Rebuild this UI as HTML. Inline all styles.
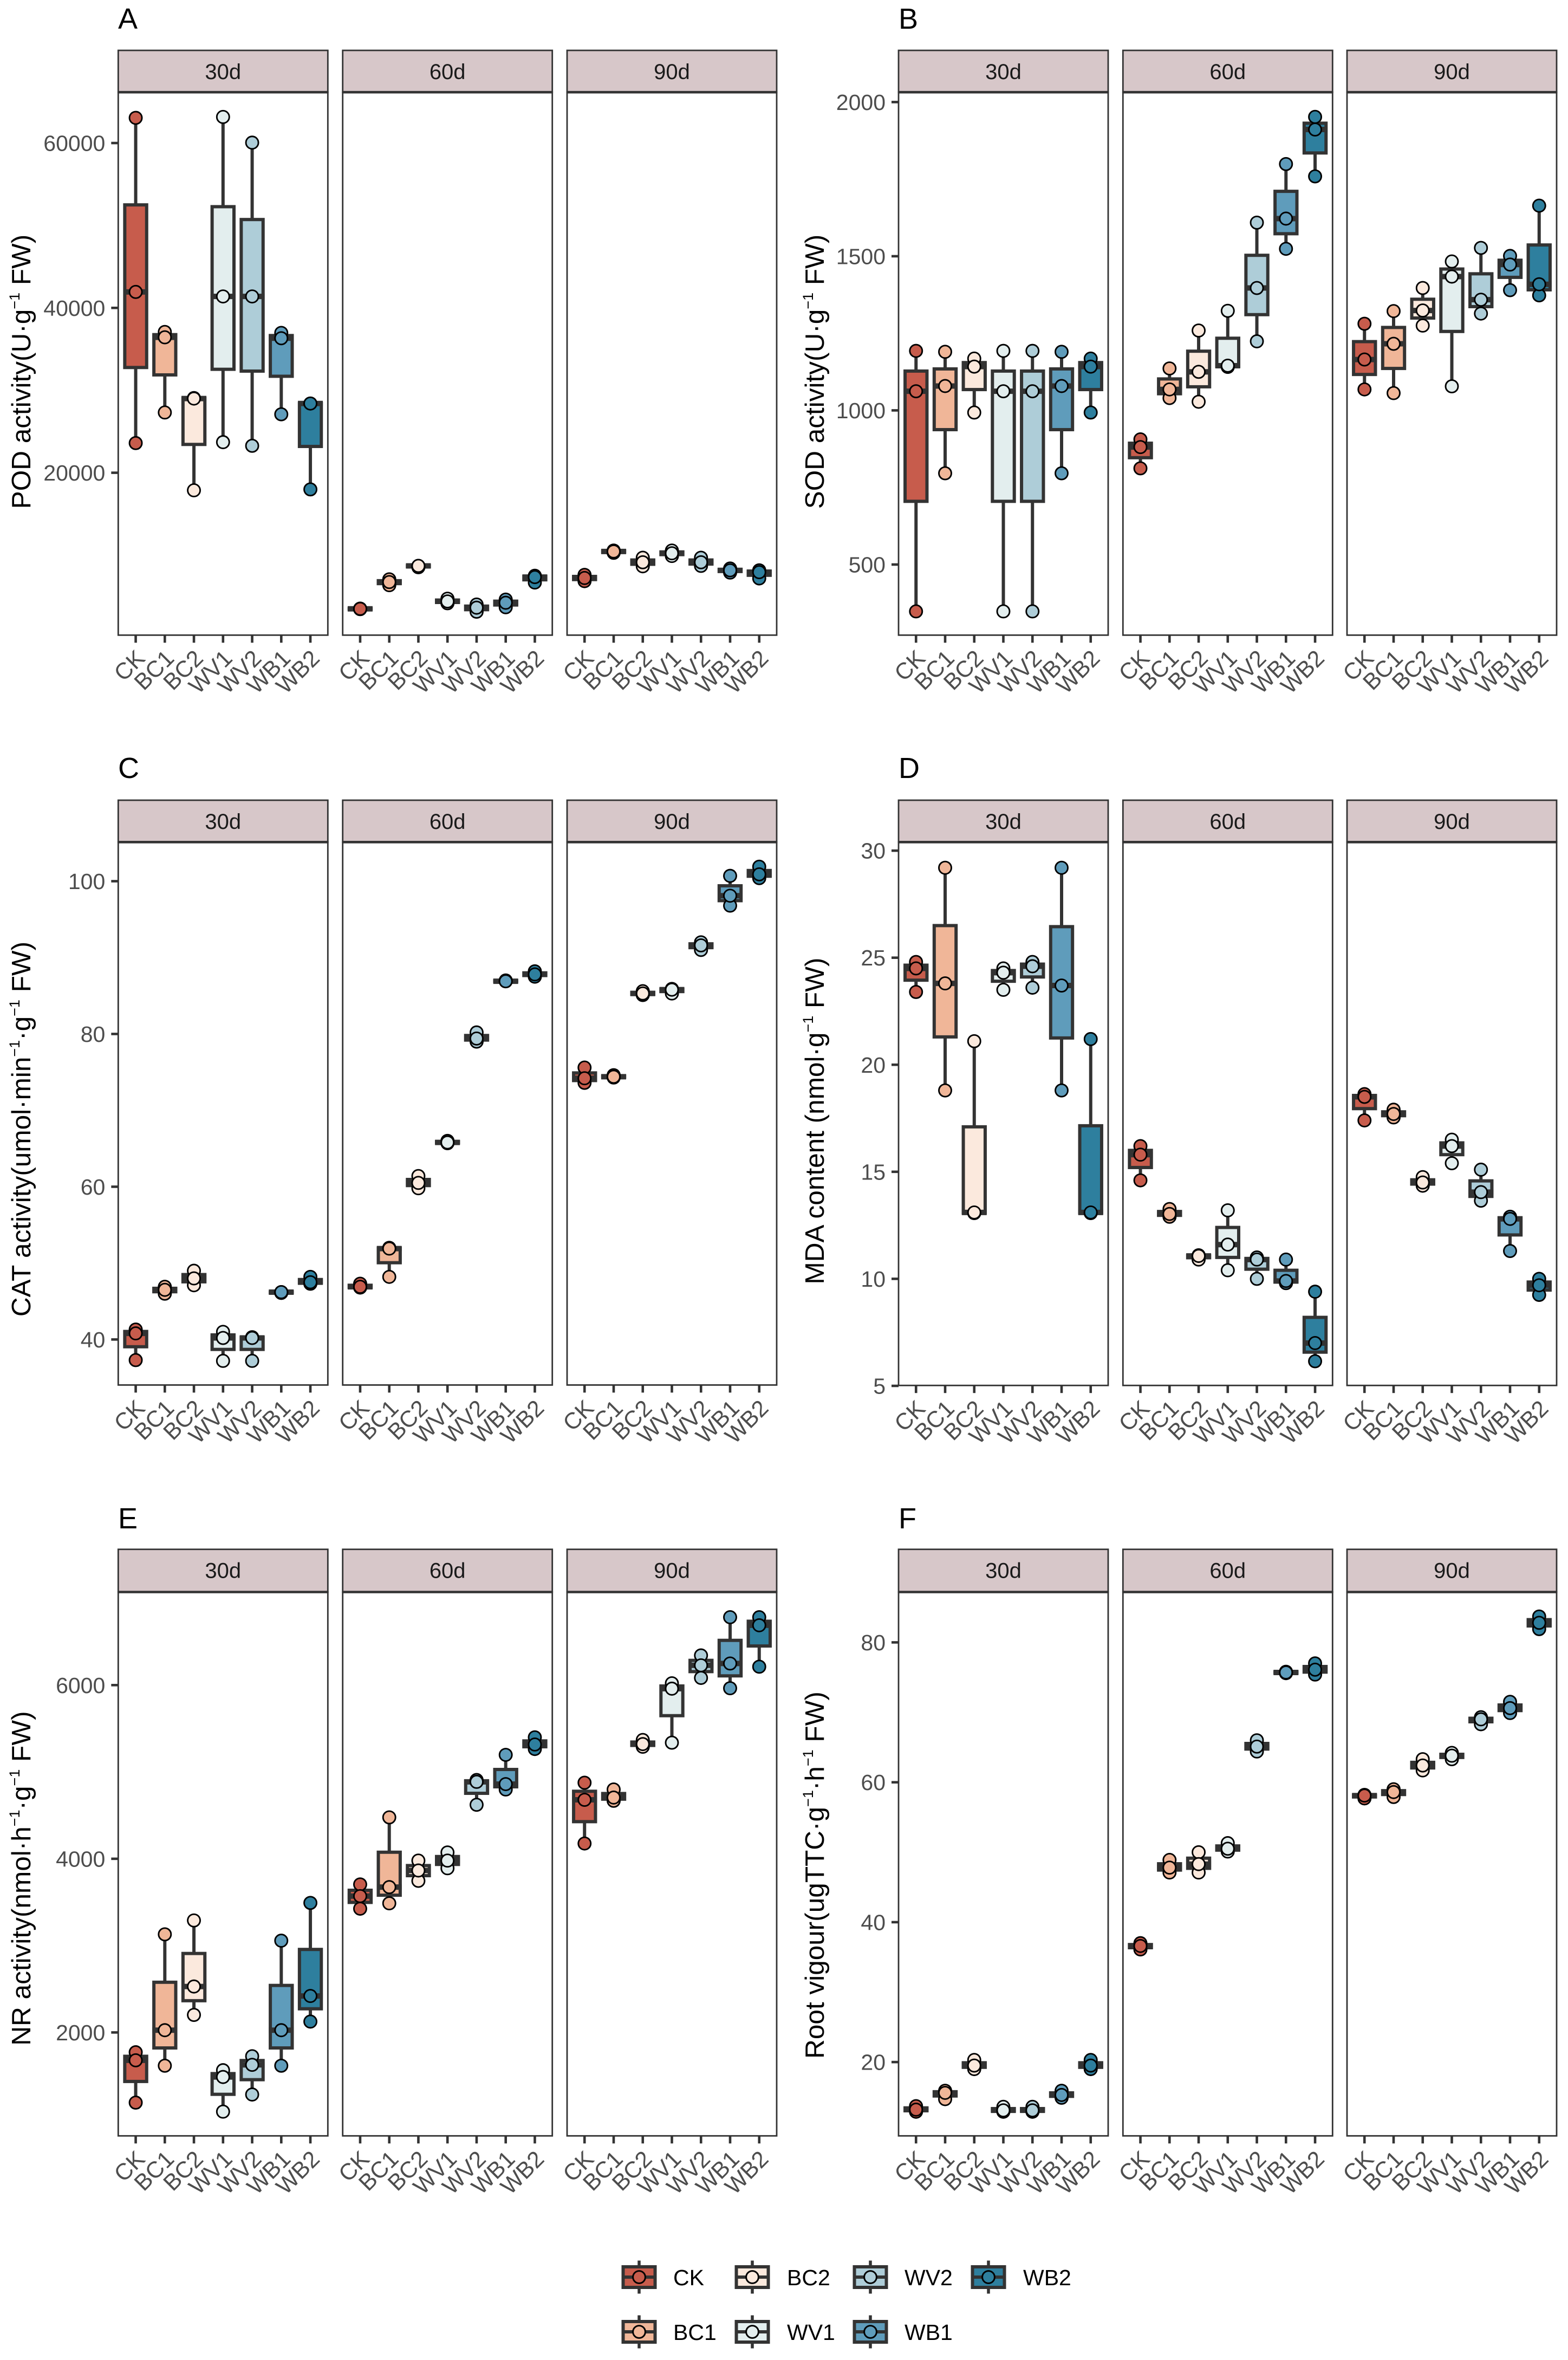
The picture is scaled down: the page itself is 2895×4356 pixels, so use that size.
<!DOCTYPE html>
<html lang="en">
<head>
<meta charset="utf-8">
<title>Enzyme activity boxplots</title>
<style>
html,body{margin:0;padding:0;background:#fff}
svg{display:block}
text{font-family:"Liberation Sans",Arial,sans-serif}
</style>
</head>
<body>
<svg id="figure" xmlns="http://www.w3.org/2000/svg" width="2895" height="4356" viewBox="0 0 2895 4356">
  <rect width="2895" height="4356" fill="#fff"/>
  <text x="218" y="53" font-size="54">A</text>
  <text x="1659" y="53" font-size="54">B</text>
  <text x="218" y="1436" font-size="54">C</text>
  <text x="1659" y="1436" font-size="54">D</text>
  <text x="218" y="2821" font-size="54">E</text>
  <text x="1659" y="2821" font-size="54">F</text>

  <text font-size="49.5" text-anchor="middle" transform="translate(56,686) rotate(-90)">POD activity(U·g<tspan dy="-20" font-size="27">−1</tspan><tspan dy="20"> FW)</tspan></text>
  <text font-size="49.5" text-anchor="middle" transform="translate(1521,686) rotate(-90)">SOD activity(U·g<tspan dy="-20" font-size="27">−1</tspan><tspan dy="20"> FW)</tspan></text>
  <text font-size="49.5" text-anchor="middle" transform="translate(56,2084) rotate(-90)">CAT activity(umol·min<tspan dy="-20" font-size="27">−1</tspan><tspan dy="20">·g</tspan><tspan dy="-20" font-size="27">−1</tspan><tspan dy="20"> FW)</tspan></text>
  <text font-size="49.5" text-anchor="middle" transform="translate(1521,2069) rotate(-90)">MDA content (nmol·g<tspan dy="-20" font-size="27">−1</tspan><tspan dy="20"> FW)</tspan></text>
  <text font-size="49.5" text-anchor="middle" transform="translate(56,3467) rotate(-90)">NR activity(nmol·h<tspan dy="-20" font-size="27">−1</tspan><tspan dy="20">·g</tspan><tspan dy="-20" font-size="27">−1</tspan><tspan dy="20"> FW)</tspan></text>
  <text font-size="49.5" text-anchor="middle" transform="translate(1521,3461) rotate(-90)">Root vigour(ugTTC·g<tspan dy="-20" font-size="27">−1</tspan><tspan dy="20">·h</tspan><tspan dy="-20" font-size="27">−1</tspan><tspan dy="20"> FW)</tspan></text>
</svg>
<script>
const categories = ['CK','BC1','BC2','WV1','WV2','WB1','WB2'];
const fillColors = ['#C75C4C','#F0B698','#FBE9DD','#E3EEEE','#AECDD8','#5F9CBB','#2E7F9E'];
const stripLabels = ['30d','60d','90d'];

const podTicks = [20000,40000,60000];
const podDomain = [299,66166];
const podD30 = [[63056,41937,23600],[37080,36430,27310],[29060,29000,17870],[63165,41390,23710],[60050,41390,23270],[36970,36320,27090],[28400,28400,17980]];
const podD60 = [[3520,3490,3450],[7067,6740,6360],[8700,8700,8540],[4720,4390,4170],[4010,3630,3140],[4610,4230,3680],[7500,7340,6680]];
const podD90 = [[7610,7230,6850],[10560,10450,10290],[9690,9140,8650],[10560,10230,9900],[9690,9140,8700],[8380,8160,7890],[8160,7940,7180]];

const sodTicks = [500,1000,1500,2000];
const sodDomain = [271,2032];
const sodD30 = [[1193,1062,348],[1190,1079,796],[1168,1142,993],[1193,1062,348],[1193,1062,348],[1190,1079,796],[1168,1142,993]];
const sodD60 = [[906,881,812],[1136,1068,1040],[1259,1125,1028],[1323,1145,1141],[1609,1397,1224],[1799,1622,1524],[1952,1911,1759]];
const sodD90 = [[1281,1165,1068],[1322,1216,1056],[1397,1324,1275],[1483,1434,1078],[1527,1359,1314],[1501,1473,1390],[1664,1409,1373]];

const catTicks = [40,60,80,100];
const catDomain = [34.04,105.12];
const catD30 = [[41.3,40.8,37.3],[46.9,46.5,46.0],[49.0,48.0,47.1],[41.0,40.2,37.2],[40.3,40.2,37.2],[46.2,46.2,46.1],[48.2,47.5,47.3]];
const catD60 = [[47.3,46.9,46.8],[52.0,51.9,48.2],[61.4,60.5,59.8],[66.0,65.8,65.7],[80.2,79.4,79.0],[87.0,86.9,86.9],[88.2,87.8,87.5]];
const catD90 = [[75.6,74.2,73.6],[74.6,74.4,74.3],[85.6,85.3,85.1],[85.9,85.8,85.3],[92.0,91.6,91.0],[100.7,98.1,96.8],[101.9,100.9,100.4]];

const mdaTicks = [5,10,15,20,25,30];
const mdaDomain = [5.02,30.4];
const mdaD30 = [[24.8,24.5,23.4],[29.2,23.8,18.8],[21.1,13.1,13.07],[24.5,24.3,23.5],[24.8,24.6,23.6],[29.2,23.7,18.8],[21.2,13.1,13.07]];
const mdaD60 = [[16.2,15.8,14.6],[13.26,13.03,12.9],[11.1,11.07,10.9],[13.2,11.6,10.4],[11.0,10.9,10.0],[10.9,9.9,9.8],[9.4,7.0,6.15]];
const mdaD90 = [[18.63,18.5,17.4],[17.9,17.7,17.54],[14.75,14.5,14.35],[16.5,16.2,15.4],[15.1,14.05,13.65],[12.9,12.8,11.3],[10.0,9.7,9.25]];

const nrTicks = [2000,4000,6000];
const nrDomain = [809,7072];
const nrD30 = [[1772,1679,1192],[3130,2026,1617],[3290,2529,2202],[1565,1487,1088],[1726,1627,1285],[3057,2026,1617],[3492,2420,2125]];
const nrD60 = [[3705,3570,3425],[4477,3674,3487],[3979,3865,3746],[4073,3979,3891],[4907,4886,4622],[5197,4860,4798],[5399,5316,5264]];
const nrD90 = [[4876,4679,4176],[4798,4705,4668],[5368,5321,5290],[6021,5959,5337],[6342,6228,6083],[6782,6249,5964],[6782,6689,6212]];

const rootTicks = [20,40,60,80];
const rootDomain = [9.45,87.2];
const rootD30 = [[13.7,13.2,12.9],[15.9,15.6,14.7],[20.3,19.5,19.0],[13.6,13.1,12.9],[13.6,13.1,12.9],[15.9,15.3,14.9],[20.3,19.5,19.0]];
const rootD60 = [[37.0,36.6,36.1],[48.9,47.8,47.1],[50.0,48.3,47.1],[51.3,50.5,50.1],[66.0,65.1,64.4],[75.8,75.7,75.6],[77.0,76.1,75.4]];
const rootD90 = [[58.2,58.1,57.7],[59.0,58.6,57.9],[63.3,62.4,61.7],[64.2,63.8,63.3],[69.3,69.0,68.3],[71.5,70.6,69.9],[83.7,82.8,81.9]];

const svg = document.getElementById('figure');
const NS = 'http://www.w3.org/2000/svg';
const INK = '#333333';
const PANEL_W = 387;

function make(tag, attrs, parent) {
  const el = document.createElementNS(NS, tag);
  for (const k in attrs) el.setAttribute(k, attrs[k]);
  (parent || svg).appendChild(el);
  return el;
}

function quantile(sorted, p) {
  const h = (sorted.length - 1) * p;
  const i = Math.floor(h);
  const j = Math.min(i + 1, sorted.length - 1);
  return sorted[i] + (sorted[j] - sorted[i]) * (h - i);
}

function drawBox(g, cx, y, reps, color) {
  const s = reps.slice().sort(function (a, b) { return a - b; });
  const q1 = quantile(s, 0.25), med = quantile(s, 0.5), q3 = quantile(s, 0.75);
  const lo = s[0], hi = s[s.length - 1];

  const whisker = make('path', {d: 'M' + cx + ' ' + y(hi) + 'V' + y(q3) + 'M' + cx + ' ' + y(q1) + 'V' + y(lo), stroke: INK, 'stroke-width': 6, fill: 'none'}, g);
  
  

  const rect = make('rect', {x: cx - 20.2, y: y(q3), width: 40.4, height: Math.max(0, y(q1) - y(q3)), fill: color, stroke: INK, 'stroke-width': 6}, g);
  
  

  const medianLine = make('line', {x1: cx - 23, x2: cx + 23, y1: y(med), y2: y(med), stroke: INK, 'stroke-width': 10}, g);
  
  

  [0, 2, 1].forEach(function (idx) {
    const dot = make('circle', {cx: cx, cy: y(reps[idx]), r: 11.5, fill: color, stroke: '#000', 'stroke-width': 2.9}, g);
    
    
  });
}

function drawPlot(name, panelLefts, stripTop, top, bottom, domain, ticks, series) {
  const yScale = function (v) { return bottom - (v - domain[0]) / (domain[1] - domain[0]) * (bottom - top); };

  series.forEach(function (values, p) {
    const left = panelLefts[p];
    const unit = PANEL_W / 7.2;
    const xScale = function (i) { return left + unit * (i + 0.6); };
    const g = make('g', {});
    
    

    const strip = make('rect', {x: left, y: stripTop, width: PANEL_W, height: top - stripTop, fill: '#D7C7C9', stroke: INK, 'stroke-width': 2.8}, g);
    
    

    const stripText = make('text', {x: left + PANEL_W / 2, y: stripTop + 53, 'font-size': 40, 'text-anchor': 'middle', fill: '#1A1A1A'}, g);
    stripText.textContent = stripLabels[p];
    
    

    values.forEach(function (reps, i) {
      drawBox(g, xScale(i), yScale, reps, fillColors[i]);
    });

    const border = make('rect', {x: left, y: top, width: PANEL_W, height: bottom - top, fill: 'none', stroke: INK, 'stroke-width': 2.8}, g);
    
    

    const stripRule = make('line', {x1: left, x2: left + PANEL_W, y1: top, y2: top, stroke: INK, 'stroke-width': 4.6}, g);
    
    

    categories.forEach(function (cat, i) {
      const cx = xScale(i);
      const tick = make('line', {x1: cx, x2: cx, y1: bottom, y2: bottom + 14, stroke: INK, 'stroke-width': 4.6}, g);
      
      

      const ax = cx + 19.5, ay = bottom + 45.5;
      const label = make('text', {x: 0, y: 0, 'font-size': 42.5, fill: '#4D4D4D', 'text-anchor': 'end', transform: 'translate(' + ax + ',' + ay + ') rotate(-45)'}, g);
      label.textContent = cat;
      
      
    });

    if (p === 0) {
      ticks.forEach(function (t) {
        const ty = yScale(t);
        const tick = make('line', {x1: left - 13, x2: left, y1: ty, y2: ty, stroke: INK, 'stroke-width': 4.6}, g);
        
        

        const label = make('text', {x: left - 24, y: ty + 14.5, 'font-size': 41, fill: '#4D4D4D', 'text-anchor': 'end'}, g);
        label.textContent = String(t);
        
        
      });
    }
  });
}

const leftCol = [218.3, 632.7, 1047];
const rightCol = [1659, 2073.3, 2487];

drawPlot('pod', leftCol, 93, 170.2, 1172.3, podDomain, podTicks, [podD30, podD60, podD90]);
drawPlot('sod', rightCol, 93, 170.2, 1172.3, sodDomain, sodTicks, [sodD30, sodD60, sodD90]);
drawPlot('cat', leftCol, 1477, 1554.3, 2556.4, catDomain, catTicks, [catD30, catD60, catD90]);
drawPlot('mda', rightCol, 1477, 1554.3, 2557.2, mdaDomain, mdaTicks, [mdaD30, mdaD60, mdaD90]);
drawPlot('nr', leftCol, 2859.7, 2938.5, 3942.3, nrDomain, nrTicks, [nrD30, nrD60, nrD90]);
drawPlot('root', rightCol, 2859.7, 2938.5, 3942.3, rootDomain, rootTicks, [rootD30, rootD60, rootD90]);

const legendKeyX = [1180, 1389, 1607, 1825];
const legendTextX = [1243, 1453, 1670, 1889];
const legendRowY = [4203, 4304];
const legend = make('g', {});



categories.forEach(function (cat, i) {
  const col = Math.floor(i / 2), row = i % 2;
  const cx = legendKeyX[col], cy = legendRowY[row];
  const entry = make('g', {}, legend);
  
  

  const wh = make('line', {x1: cx, x2: cx, y1: cy - 30.5, y2: cy + 30.5, stroke: INK, 'stroke-width': 5.5}, entry);
  
  

  const key = make('rect', {x: cx - 29.5, y: cy - 19, width: 59, height: 38, fill: fillColors[i], stroke: INK, 'stroke-width': 6}, entry);
  
  

  const m = make('line', {x1: cx - 30, x2: cx + 30, y1: cy, y2: cy, stroke: INK, 'stroke-width': 6}, entry);
  
  

  const d = make('circle', {cx: cx, cy: cy, r: 11.4, fill: fillColors[i], stroke: '#000', 'stroke-width': 3}, entry);
  
  

  const t = make('text', {x: legendTextX[col], y: cy + 15, 'font-size': 41, fill: '#000'}, entry);
  t.textContent = cat;
  
  
});
</script>
</body>
</html>
